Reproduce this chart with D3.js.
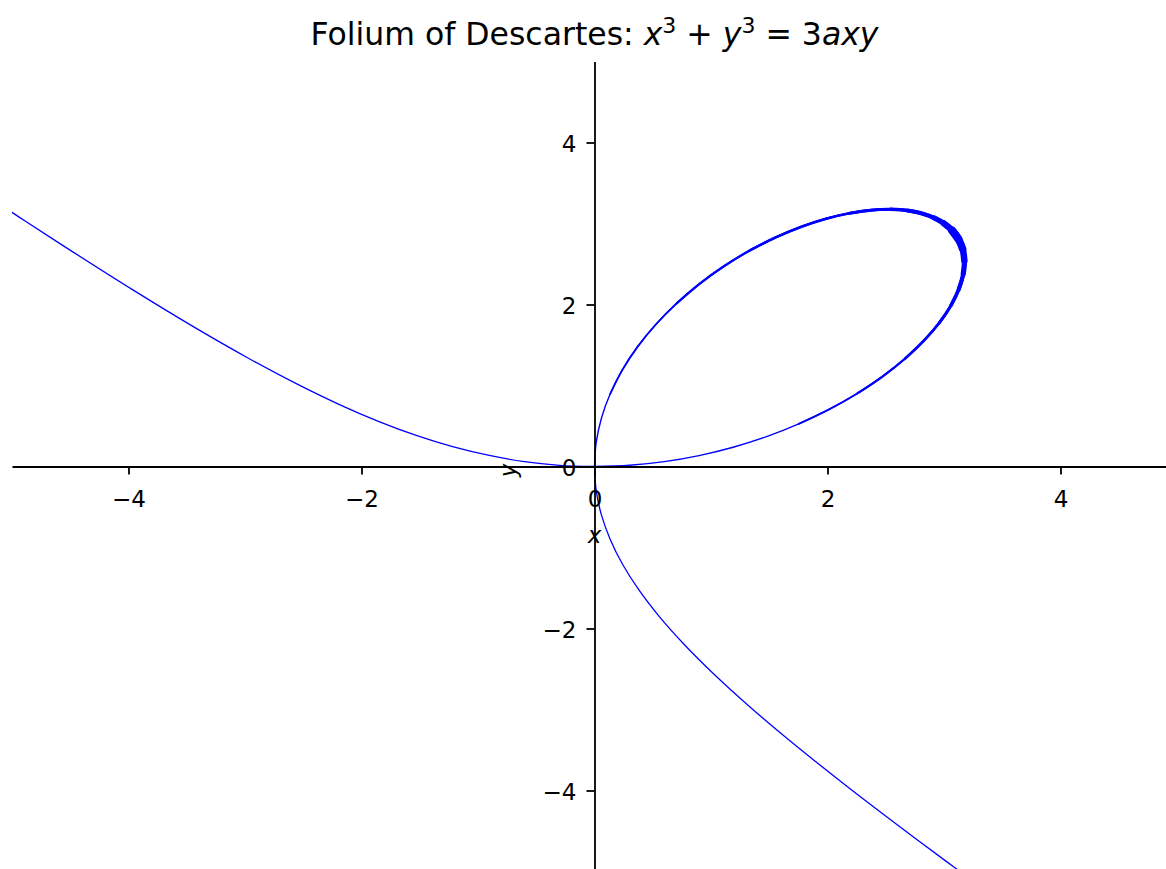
<!DOCTYPE html>
<html>
<head>
<meta charset="utf-8">
<script src="https://cdn.jsdelivr.net/npm/d3@7"></script>
<style>
  html, body { margin: 0; padding: 0; background: #fff; }
  svg { display: block; }
  text { font-family: "DejaVu Sans", sans-serif; fill: #000; }
</style>
</head>
<body>
<svg id="chart" width="1166" height="869"></svg>
<script>
// Folium of Descartes, a = 2: sampled points along the three pieces of the curve.

// Loop in the first quadrant, traversed from the origin along the lower arc and back.
const loopX = [0, 0.300, 0.599, 0.897, 1.190, 1.477, 1.753, 2.014, 2.256, 2.475, 2.667, 2.829, 2.961, 3.060, 3.127, 3.165, 3.175, 3.160, 3.123, 3.069, 3.000,
               2.915, 2.811, 2.686, 2.540, 2.374, 2.189, 1.989, 1.776, 1.556, 1.333, 1.114, 0.902, 0.705, 0.526, 0.369, 0.238, 0.135, 0.060, 0.015, 0];
const loopY = [0, 0.015, 0.060, 0.135, 0.238, 0.369, 0.526, 0.705, 0.902, 1.114, 1.333, 1.556, 1.776, 1.989, 2.189, 2.374, 2.540, 2.686, 2.811, 2.915, 3.000,
               3.069, 3.123, 3.160, 3.175, 3.165, 3.127, 3.060, 2.961, 2.829, 2.667, 2.475, 2.256, 2.014, 1.753, 1.477, 1.190, 0.897, 0.599, 0.300, 0];
// Traced thickness of the loop (px) at each sampled point.
const loopWidth = [1.4, 1.4, 1.5, 1.5, 1.6, 1.7, 1.8, 2.0, 2.2, 2.4, 2.6, 2.9, 3.2, 3.6, 4.2, 5.2, 6.5, 7.5, 8.0, 8.0, 7.0,
                   6.0, 5.0, 4.2, 3.6, 3.2, 3.0, 2.9, 2.8, 2.7, 2.6, 2.5, 2.4, 2.2, 2.1, 2.0, 1.9, 1.8, 1.7, 1.6, 1.5];

// Upper-left branch, approaching the origin.
const leftX = [-5.040, -4.884, -4.592, -3.959, -3.429, -2.971, -2.564, -2.194, -1.850, -1.524, -1.210, -0.903, -0.601, -0.300, 0];
const leftY = [3.175, 3.028, 2.755, 2.177, 1.714, 1.337, 1.026, 0.768, 0.555, 0.381, 0.242, 0.136, 0.060, 0.015, 0];

// Lower-right branch, approaching the origin.
const lowX = [3.175, 3.028, 2.755, 2.177, 1.714, 1.337, 1.026, 0.768, 0.555, 0.381, 0.242, 0.136, 0.060, 0.015, 0];
const lowY = [-5.040, -4.884, -4.592, -3.959, -3.429, -2.971, -2.564, -2.194, -1.850, -1.524, -1.210, -0.903, -0.601, -0.300, 0];

const xTicks = [-4, -2, 0, 2, 4];
const yTicks = [-4, -2, 0, 2, 4];
const xDomain = [-5, 5];
const yDomain = [-5, 5];

const svg = d3.select("#chart");

const x = d3.scaleLinear().domain(xDomain).range([12, 1177]);
const y = d3.scaleLinear().domain(yDomain).range([871.5, 61.5]);

const BLUE = "#0000ff";

svg.append("defs").append("clipPath").attr("id", "plot-area")
  .append("rect")
  .attr("x", x(xDomain[0])).attr("y", y(yDomain[1]))
  .attr("width", x(xDomain[1]) - x(xDomain[0]))
  .attr("height", y(yDomain[0]) - y(yDomain[1]));

const curveG = svg.append("g").attr("clip-path", "url(#plot-area)");

const line = d3.line()
  .x(d => x(d[0]))
  .y(d => y(d[1]))
  .curve(d3.curveCatmullRom.alpha(0.5));

const leftPts = d3.zip(leftX, leftY);
const lowPts = d3.zip(lowX, lowY);
const loopPts = d3.zip(loopX, loopY);

[leftPts, lowPts].forEach(pts => {
  curveG.append("path")
    .attr("d", line(pts))
    .attr("fill", "none")
    .attr("stroke", BLUE)
    .attr("stroke-width", 1.3)
    .attr("stroke-linecap", "round")
    .attr("stroke-linejoin", "round");
});

// The loop is drawn in layers: each layer covers the runs of points at least as thick as its level.
const levels = [1.4, 1.8, 2.2, 2.6, 3.0, 3.6, 4.2, 5.2, 6.5, 7.5, 8.0];
levels.forEach(level => {
  let run = [];
  const flush = () => {
    if (run.length >= 2) {
      curveG.append("path")
        .attr("d", line(run))
        .attr("fill", "none")
        .attr("stroke", BLUE)
        .attr("stroke-width", level)
        .attr("stroke-linecap", "round")
        .attr("stroke-linejoin", "round");
    }
    run = [];
  };
  loopPts.forEach((p, i) => {
    if (loopWidth[i] >= level) run.push(p); else flush();
  });
  flush();
});

// Axes through the origin
const fmt = d => d < 0 ? "\u2212" + Math.abs(d) : String(d);

const xAxis = svg.append("g")
  .attr("transform", `translate(0,${y(0)})`)
  .call(d3.axisBottom(x).tickValues(xTicks).tickSize(8).tickPadding(8).tickSizeOuter(0).tickFormat(fmt));

const yAxis = svg.append("g")
  .attr("transform", `translate(${x(0)},0)`)
  .call(d3.axisLeft(y).tickValues(yTicks).tickSize(8).tickPadding(10).tickSizeOuter(0).tickFormat(fmt));

[xAxis, yAxis].forEach(g => {
  g.attr("font-family", null).attr("font-size", null);
  g.select(".domain").attr("stroke", "#000").attr("stroke-width", 1.8);
  g.selectAll(".tick line").attr("stroke", "#000").attr("stroke-width", 1.8);
  g.selectAll(".tick text").style("font-size", "23px").attr("fill", "#000");
});
xAxis.selectAll(".tick text").attr("dy", "1.065em");
yAxis.selectAll(".tick text").attr("dy", "0.38em");

// Axis labels
svg.append("text")
  .attr("x", x(0)).attr("y", 543)
  .attr("text-anchor", "middle")
  .style("font-size", "23px").style("font-style", "italic")
  .text("x");

svg.append("text")
  .attr("transform", `translate(516,${y(0) + 4}) rotate(-90)`)
  .attr("text-anchor", "middle")
  .style("font-size", "23px").style("font-style", "italic")
  .text("y");

// Title
const title = svg.append("text")
  .attr("x", (x(xDomain[0]) + x(xDomain[1])) / 2)
  .attr("y", 45)
  .attr("text-anchor", "middle")
  .style("font-size", "31.5px");
title.append("tspan").text("Folium of Descartes: ");
title.append("tspan").style("font-style", "italic").text("x");
title.append("tspan").attr("dy", -12).style("font-size", "22px").text("3");
title.append("tspan").attr("dy", 12).text(" + ");
title.append("tspan").style("font-style", "italic").text("y");
title.append("tspan").attr("dy", -12).style("font-size", "22px").text("3");
title.append("tspan").attr("dy", 12).text(" = 3");
title.append("tspan").style("font-style", "italic").text("axy");
</script>
</body>
</html>
